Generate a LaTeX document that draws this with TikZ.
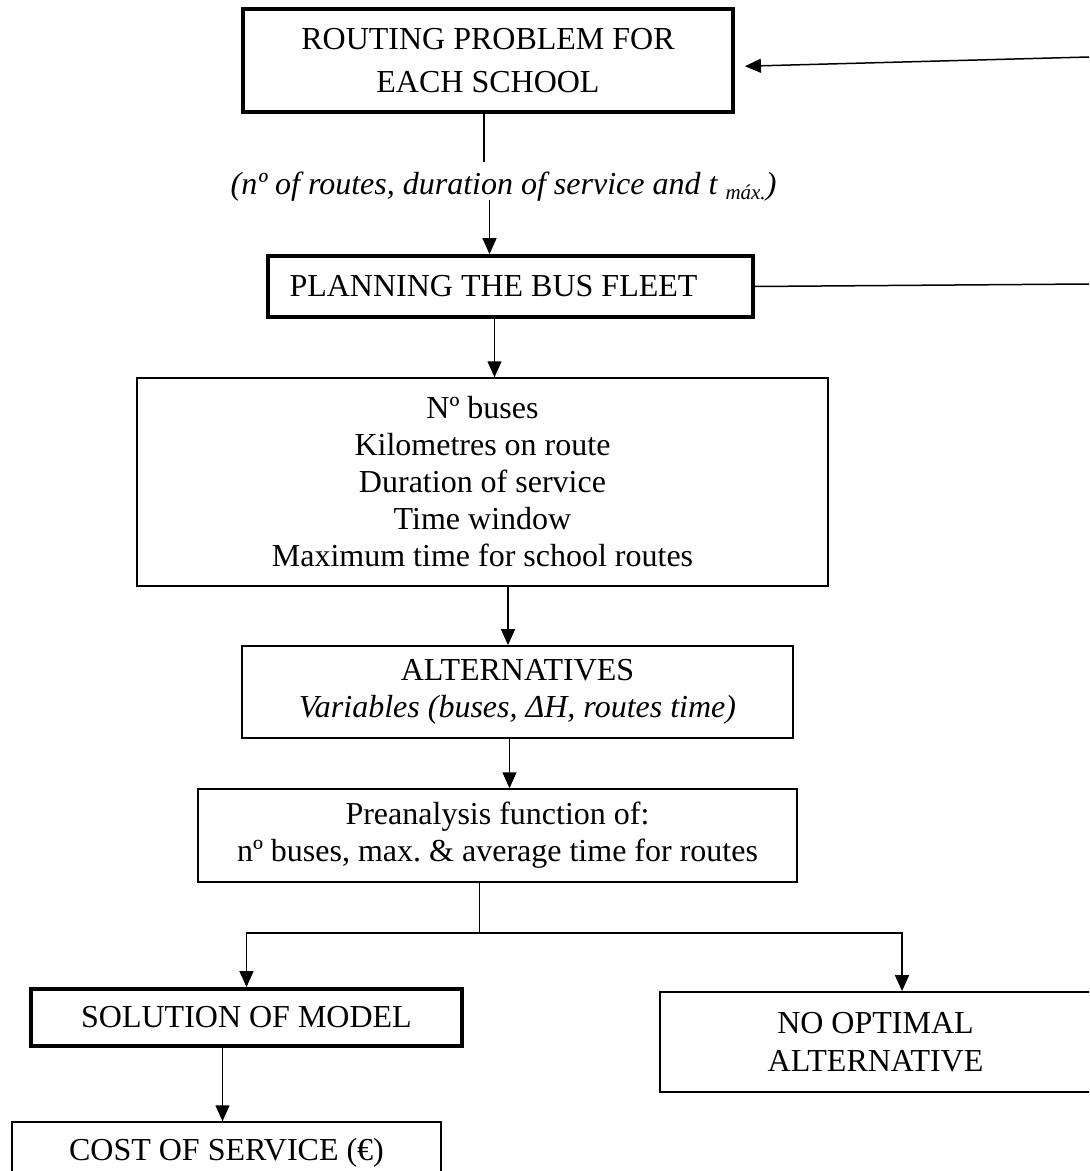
\documentclass[tikz,border=0pt]{standalone}
\usepackage{fontspec}
\setmainfont{Liberation Serif}
\usetikzlibrary{arrows.meta,calc}

\begin{document}
\begin{tikzpicture}[x=0.5pt,y=-0.5pt,line join=miter,
  box/.style={draw,line width=0.75pt,align=center,inner sep=0pt,
    font=\fontsize{16}{18.5}\selectfont},
  thickbox/.style={box,line width=1.9pt},
  arr/.style={line width=0.75pt,-{Triangle[length=8pt,width=7pt]}},
  link/.style={line width=0.75pt}]

% ===== 画布(像素坐标,y 向下) =====
\useasboundingbox (0,0) rectangle (1089,1171);
\clip (0,0) rectangle (1089,1171);

% ===== 方框 =====
\node[thickbox,minimum width=245pt,minimum height=51.5pt] (routing) at (488,60.5)
  {ROUTING PROBLEM FOR\\[3pt]EACH SCHOOL};
\node[font=\itshape\fontsize{16}{19}\selectfont,inner sep=0pt] (params) at (503.5,187)
  {(nº of routes, duration of service and t \raisebox{-2.5pt}{\fontsize{10.5}{12}\selectfont máx.})};
\node[thickbox,minimum width=242.5pt,minimum height=30.5pt] (fleet) at (510.5,286.5)
  {PLANNING THE BUS FLEET\hspace{17pt}};
\node[box,minimum width=345.5pt,minimum height=104pt] (data) at (482.5,482)
  {Nº buses\\Kilometres on route\\Duration of service\\Time window\\Maximum time for school routes};
\node[box,line width=0.9pt,minimum width=275.5pt,minimum height=46pt] (alts) at (517.5,692)
  {ALTERNATIVES\\\textit{Variables (buses, ΔH, routes time)}};
\node[box,minimum width=299.5pt,minimum height=46.5pt] (pre) at (497.5,835.5)
  {Preanalysis function of:\\nº buses, max.\ \& average time for routes};
\node[thickbox,minimum width=215.5pt,minimum height=28.5pt] (sol) at (246.5,1017.5)
  {\raisebox{-1pt}{SOLUTION OF MODEL}};
\node[box,line width=0.9pt,minimum width=215.5pt,minimum height=50pt] (noopt) at (875.5,1042)
  {NO OPTIMAL\\[0.5pt]ALTERNATIVE};
\node[box,minimum width=214.5pt,minimum height=31pt] (cost) at (226.5,1153)
  {COST OF SERVICE (€)};

% ===== 右侧反馈线 =====
\coordinate (back) at (1089,57);
\coordinate (fleetout) at (1089,284);
\draw[arr,shorten >=5pt] (back) -- ([yshift=-3pt]routing.east);
\draw[link] (fleet.east) -- (fleetout);

% ===== 主流程 =====
\draw[link,shorten >=5pt] ([xshift=-2pt]routing.south) -- ([xshift=-2pt]routing.south |- params.north);
\draw[arr,shorten <=-1pt] ([xshift=-7pt]params.south) -- ([xshift=-7pt]params.south |- fleet.north);
\draw[arr] ([xshift=-8pt]fleet.south) -- ([xshift=-8pt]fleet.south |- data.north);
\draw[arr] ([xshift=12.75pt]data.south) -- ([xshift=12.75pt]data.south |- alts.north);
\draw[arr] ([xshift=-4pt]alts.south) -- ([xshift=-4pt]alts.south |- pre.north);

% ===== 分支 =====
\draw[link] ([xshift=-9pt]pre.south) -- ++(0,50) coordinate (split);
\draw[arr] (split) -| (sol.north);
\draw[arr] (split) -| ([xshift=13.25pt]noopt.north);
\draw[arr] ([xshift=-12pt]sol.south) -- ([xshift=-12pt]sol.south |- cost.north);

\end{tikzpicture}
\end{document}
